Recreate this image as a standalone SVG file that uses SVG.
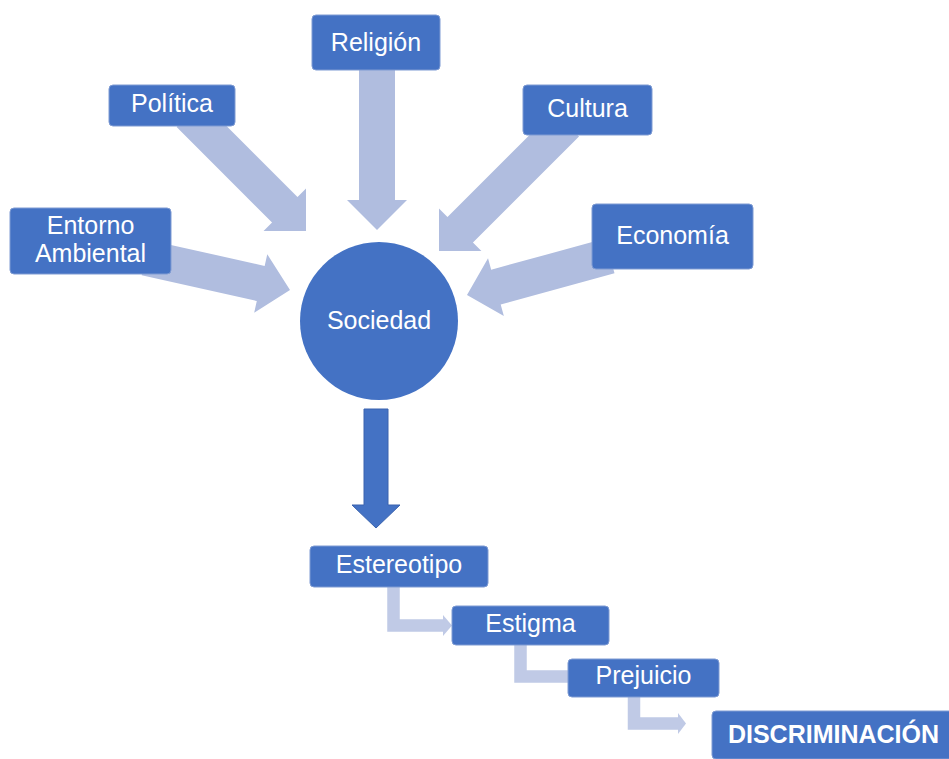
<svg xmlns="http://www.w3.org/2000/svg" width="949" height="759" viewBox="0 0 949 759">
<style>
.box{fill:#4472C4;stroke:#7E9BD3;stroke-width:1}
.t{fill:#ffffff;font-family:"Liberation Sans",Arial,sans-serif;font-size:25px;text-anchor:middle}
.b{font-weight:bold}
.big{fill:#B0BDDF}
.elb{fill:none;stroke:#C0CAE6;stroke-width:12.5;stroke-linejoin:miter}
.elh{fill:#C0CAE6}
</style>
<defs>
<path id="ba" d="M-180,-18 L-30,-18 L-30,-30 L0,0 L-30,30 L-30,18 L-180,18 Z"/>
</defs>
<rect width="949" height="759" fill="#ffffff"/>
<g id="connectors">
<use href="#ba" class="big" transform="translate(377,230) rotate(90)"/>
<path class="big" d="M-165,-18 L-30,-18 L-30,-30 L0,0 L-30,30 L-30,18 L-165,18 Z" transform="translate(306,231) rotate(45)"/>
<path class="big" d="M-148,-18 L-30,-18 L-30,-30 L0,0 L-30,30 L-30,18 L-148,18 Z" transform="translate(290,290) rotate(12.6)"/>
<use href="#ba" class="big" transform="translate(439,251) rotate(135)"/>
<path class="big" d="M-148,-18 L-30,-18 L-30,-30 L0,0 L-30,30 L-30,18 L-148,18 Z" transform="translate(467,295) rotate(164.7)"/>
<path d="M364,409 H388 V505 H400 L376,528 L352,505 H364 Z" fill="#4472C4" stroke="#3A63AE" stroke-width="1"/>
<path class="elb" d="M393.5,587 V625.5 H444"/>
<path class="elh" d="M443,615 L452,625.5 L443,636 Z"/>
<path class="elb" d="M520.5,645 V676.5 H568"/>
<path class="elb" d="M634,697 V723.5 H679"/>
<path class="elh" d="M678,713 L686,723.5 L678,734 Z"/>
</g>
<g id="religion"><rect class="box" x="312" y="15" width="128" height="55" rx="4"/><text class="t" x="376" y="51">Religión</text></g>
<g id="politica"><rect class="box" x="109" y="85" width="126" height="41" rx="4"/><text class="t" x="172" y="112">Política</text></g>
<g id="cultura"><rect class="box" x="523" y="85" width="129" height="50" rx="4"/><text class="t" x="587.5" y="117">Cultura</text></g>
<g id="economia"><rect class="box" x="592" y="204" width="161" height="65" rx="4"/><text class="t" x="672.5" y="244">Economía</text></g>
<g id="entorno"><rect class="box" x="10" y="208" width="161" height="66" rx="4"/><text class="t" x="90.5" y="234">Entorno</text><text class="t" x="90.5" y="262">Ambiental</text></g>
<g id="sociedad"><circle cx="379" cy="321" r="79" fill="#4472C4"/><text class="t" x="379" y="329">Sociedad</text></g>
<g id="estereotipo"><rect class="box" x="310" y="546" width="178" height="41" rx="4"/><text class="t" x="399" y="573">Estereotipo</text></g>
<g id="estigma"><rect class="box" x="452" y="606" width="157" height="39" rx="4"/><text class="t" x="530.5" y="632">Estigma</text></g>
<g id="prejuicio"><rect class="box" x="568" y="659" width="151" height="38" rx="4"/><text class="t" x="643.5" y="684">Prejuicio</text></g>
<g id="discriminacion"><rect class="box" x="712" y="711" width="245" height="48" rx="4"/><text class="t b" x="833.5" y="743">DISCRIMINACIÓN</text></g>
</svg>
